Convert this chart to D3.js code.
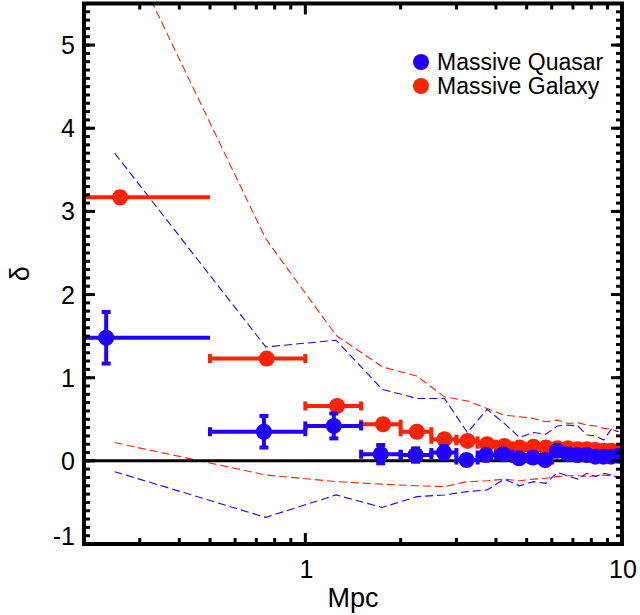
<!DOCTYPE html>
<html>
<head>
<meta charset="utf-8">
<script src="https://cdn.jsdelivr.net/npm/d3@7"></script>
<style>
  body { margin: 0; background: #fff; }
  svg { display: block; font-family: "Liberation Sans", Arial, Helvetica, sans-serif; }
  .tick-label { font-size: 25px; fill: #000; }
  .axis-title { font-size: 27px; fill: #000; }
  .legend-label { font-size: 23px; fill: #000; }
</style>
</head>
<body>
<div id="chart"></div>
<script>
// radial bins (Mpc)
const binCenters = [0.25, 0.75, 1.25, 1.75, 2.25, 2.75, 3.25, 3.75, 4.25, 4.75,
                    5.25, 5.75, 6.25, 6.75, 7.25, 7.75, 8.25, 8.75, 9.25, 9.75];
const binLow  = [0, 0.5, 1, 1.5, 2, 2.5, 3, 3.5, 4, 4.5, 5, 5.5, 6, 6.5, 7, 7.5, 8, 8.5, 9, 9.5];
const binHigh = [0.5, 1, 1.5, 2, 2.5, 3, 3.5, 4, 4.5, 5, 5.5, 6, 6.5, 7, 7.5, 8, 8.5, 9, 9.5, 10];

// mean separation of the points in each bin
const quasarX = [0.235, 0.74, 1.23, 1.73, 2.23, 2.74, 3.23, 3.72, 4.22, 4.73,
                 5.23, 5.72, 6.24, 6.74, 7.24, 7.74, 8.24, 8.74, 9.24, 9.74];
const galaxyX = [0.26, 0.755, 1.26, 1.76, 2.25, 2.75, 3.25, 3.75, 4.25, 4.75,
                 5.25, 5.75, 6.25, 6.75, 7.25, 7.75, 8.25, 8.75, 9.25, 9.75];

// overdensity delta
const quasarDelta = [1.48, 0.35, 0.42, 0.08, 0.07, 0.10, 0.01, 0.07, 0.08, 0.03,
                     0.04, 0.01, 0.12, 0.08, 0.07, 0.07, 0.05, 0.05, 0.05, 0.06];
const quasarErr   = [0.31, 0.19, 0.15, 0.11, 0.08, 0.08, 0.06, 0.05, 0.05, 0.05,
                     0.05, 0.05, 0.04, 0.04, 0.04, 0.04, 0.04, 0.04, 0.04, 0.04];
const galaxyDelta = [3.17, 1.23, 0.66, 0.44, 0.35, 0.26, 0.24, 0.20, 0.18, 0.16,
                     0.17, 0.16, 0.15, 0.15, 0.14, 0.14, 0.13, 0.12, 0.12, 0.11];
const galaxyErr   = [0.06, 0.05, 0.04, 0.04, 0.03, 0.03, 0.03, 0.03, 0.02, 0.02,
                     0.02, 0.02, 0.02, 0.02, 0.02, 0.02, 0.02, 0.02, 0.02, 0.02];

// dashed envelopes
const quasarUpper = [3.70, 1.37, 1.45, 0.86, 0.75, 0.75, 0.34, 0.62, 0.45, 0.28,
                     0.34, 0.32, 0.42, 0.43, 0.42, 0.31, 0.30, 0.25, 0.38, 0.35];
const quasarLower = [-0.13, -0.68, -0.41, -0.56, -0.43, -0.41, -0.37, -0.35, -0.22, -0.30,
                     -0.25, -0.27, -0.14, -0.18, -0.22, -0.15, -0.19, -0.15, -0.17, -0.21];
const galaxyUpper = [6.45, 2.67, 1.51, 1.13, 1.02, 0.77, 0.72, 0.63, 0.55, 0.53,
                     0.51, 0.47, 0.49, 0.45, 0.46, 0.43, 0.42, 0.39, 0.38, 0.35];
const galaxyLower = [0.22, -0.17, -0.25, -0.28, -0.30, -0.31, -0.25, -0.24, -0.22, -0.24,
                     -0.22, -0.21, -0.19, -0.18, -0.18, -0.19, -0.18, -0.17, -0.18, -0.19];

// axes
const xDomain = [0.2, 10];
const yDomain = [-1, 5.5];
const xTickLabels = [1, 10];
const yTickLabels = [-1, 0, 1, 2, 3, 4, 5];
const seriesNames = ['Massive Quasar', 'Massive Galaxy'];

const BLUE = '#2200ff';
const RED = '#ff2200';

const width = 640, height = 615;
const plot = { left: 84, right: 622, top: 3.5, bottom: 544 };

const svg = d3.select('#chart').append('svg')
    .attr('width', width)
    .attr('height', height);

const x = d3.scaleLog().domain(xDomain).range([plot.left, plot.right]);
const y = d3.scaleLinear().domain(yDomain).range([plot.bottom, plot.top]);

svg.append('clipPath').attr('id', 'plot-clip')
  .append('rect')
    .attr('x', plot.left).attr('y', plot.top)
    .attr('width', plot.right - plot.left)
    .attr('height', plot.bottom - plot.top);

const inner = svg.append('g').attr('clip-path', 'url(#plot-clip)');

// dashed envelope lines
const envLine = d3.line()
    .x((d, i) => x(binCenters[i]))
    .y(d => y(d));

[[galaxyUpper, RED], [galaxyLower, RED], [quasarUpper, BLUE], [quasarLower, BLUE]].forEach(([vals, col]) => {
    inner.append('path')
        .attr('d', envLine(vals))
        .attr('fill', 'none')
        .attr('stroke', col)
        .attr('stroke-width', 1.1)
        .attr('stroke-dasharray', '8,4');
});

// zero line
inner.append('line')
    .attr('x1', plot.left).attr('x2', plot.right)
    .attr('y1', y(0)).attr('y2', y(0))
    .attr('stroke', '#000')
    .attr('stroke-width', 3);

// points with error bars
function drawSeries(xs, vals, errs, col) {
    const g = inner.append('g');
    vals.forEach((v, i) => {
        const x0 = x(Math.max(binLow[i], xDomain[0]));
        const x1 = x(binHigh[i]);
        const cy = y(v);
        const cx = x(xs[i]);
        g.append('line')
            .attr('x1', x0).attr('x2', x1).attr('y1', cy).attr('y2', cy)
            .attr('stroke', col).attr('stroke-width', 4);
        if (i > 0) {
            [x0, x1].forEach(cxCap => {
                g.append('line')
                    .attr('x1', cxCap).attr('x2', cxCap)
                    .attr('y1', cy - 4.5).attr('y2', cy + 4.5)
                    .attr('stroke', col).attr('stroke-width', 4);
            });
        }
        const yTop = y(v + errs[i]), yBot = y(v - errs[i]);
        g.append('line')
            .attr('x1', cx).attr('x2', cx).attr('y1', yTop).attr('y2', yBot)
            .attr('stroke', col).attr('stroke-width', 4);
        [yTop, yBot].forEach(cyCap => {
            g.append('line')
                .attr('x1', cx - 4.5).attr('x2', cx + 4.5)
                .attr('y1', cyCap).attr('y2', cyCap)
                .attr('stroke', col).attr('stroke-width', 4);
        });
        g.append('circle')
            .attr('cx', cx).attr('cy', cy).attr('r', 8)
            .attr('fill', col);
    });
}
drawSeries(galaxyX, galaxyDelta, galaxyErr, RED);
drawSeries(quasarX, quasarDelta, quasarErr, BLUE);

// frame and ticks (inward, on all four sides)
const axes = svg.append('g');
const xMinor = [0.3, 0.4, 0.5, 0.6, 0.7, 0.8, 0.9, 2, 3, 4, 5, 6, 7, 8, 9];
const yMinor = d3.range(-10, 56).map(d => d / 10);

function tick(x1, y1, x2, y2) {
    axes.append('line')
        .attr('x1', x1).attr('y1', y1).attr('x2', x2).attr('y2', y2)
        .attr('stroke', '#000').attr('stroke-width', 3);
}
xMinor.forEach(v => {
    tick(x(v), plot.bottom, x(v), plot.bottom - 6);
    tick(x(v), plot.top, x(v), plot.top + 6);
});
xTickLabels.forEach(v => {
    tick(x(v), plot.bottom, x(v), plot.bottom - 11);
    tick(x(v), plot.top, x(v), plot.top + 11);
});
yMinor.forEach(v => {
    tick(plot.left, y(v), plot.left + 6, y(v));
    tick(plot.right, y(v), plot.right - 6, y(v));
});
yTickLabels.forEach(v => {
    tick(plot.left, y(v), plot.left + 11, y(v));
    tick(plot.right, y(v), plot.right - 11, y(v));
});

axes.append('rect')
    .attr('x', plot.left).attr('y', plot.top)
    .attr('width', plot.right - plot.left)
    .attr('height', plot.bottom - plot.top)
    .attr('fill', 'none')
    .attr('stroke', '#000')
    .attr('stroke-width', 4);

// tick labels
xTickLabels.forEach(v => {
    svg.append('text')
        .attr('class', 'tick-label')
        .attr('x', x(v) + 1).attr('y', 578)
        .attr('text-anchor', 'middle')
        .text(v);
});
yTickLabels.forEach(v => {
    svg.append('text')
        .attr('class', 'tick-label')
        .attr('x', 75)
        .attr('y', y(v) + 9 - (v === yDomain[0] ? 8 : 0))
        .attr('text-anchor', 'end')
        .text(v);
});

// axis titles
svg.append('text')
    .attr('class', 'axis-title')
    .attr('x', (plot.left + plot.right) / 2).attr('y', 607)
    .attr('text-anchor', 'middle')
    .text('Mpc');
svg.append('text')
    .attr('class', 'axis-title')
    .attr('transform', `translate(29, ${(plot.top + plot.bottom) / 2}) rotate(-90)`)
    .attr('text-anchor', 'middle')
    .text('δ');

// legend
const legend = svg.append('g');
[BLUE, RED].forEach((col, i) => {
    legend.append('circle')
        .attr('cx', 421).attr('cy', 62 + i * 24).attr('r', 8)
        .attr('fill', col);
    legend.append('text')
        .attr('class', 'legend-label')
        .attr('x', 437).attr('y', 62 + i * 24 + 8)
        .text(seriesNames[i]);
});
</script>
</body>
</html>
